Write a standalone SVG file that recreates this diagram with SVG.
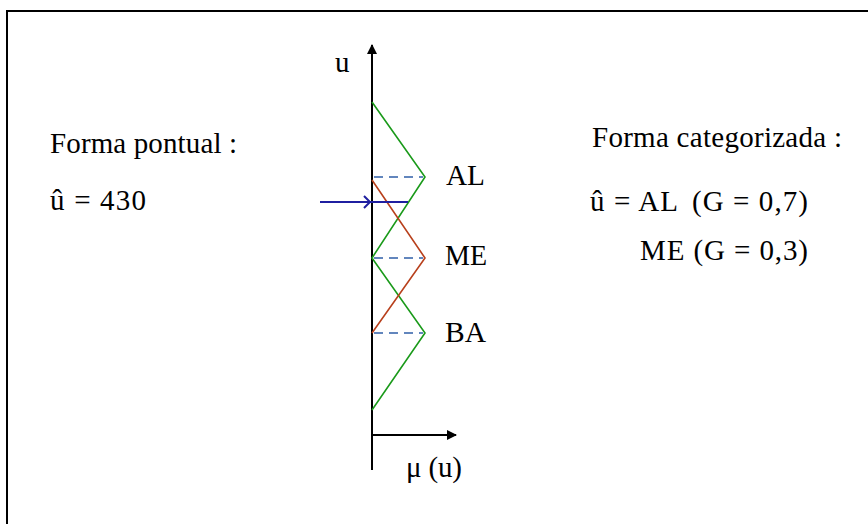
<svg xmlns="http://www.w3.org/2000/svg" width="868" height="524" viewBox="0 0 868 524">
<style>
text{font-family:"Liberation Serif","Times New Roman",serif;font-size:29px;fill:#000}
.ax{stroke:#000;stroke-width:2;fill:none}
.g{stroke:#1a9a1a;stroke-width:1.6;fill:none}
.r{stroke:#b8401c;stroke-width:1.6;fill:none}
.d{stroke:#2f5fa8;stroke-width:1.6;stroke-dasharray:9,6;fill:none}
.b{stroke:#1f1fa0;stroke-width:2;fill:none}
</style>
<defs>
<marker id="ah" markerWidth="10" markerHeight="10" refX="9" refY="5" orient="auto" markerUnits="userSpaceOnUse">
<path d="M0,0 L10,5 L0,10 z" fill="#000"/>
</marker>
</defs>
<rect width="868" height="524" fill="#fff"/>
<g id="frame" class="ax">
<path d="M7,524 V11 H868"/>
</g>
<g id="connectors">
<line class="ax" x1="372" y1="470" x2="372" y2="45" marker-end="url(#ah)"/>
<line class="ax" x1="372" y1="435" x2="456" y2="435" marker-end="url(#ah)"/>
<polyline class="g" points="372,102 425,177 372,258 425,333 372,410"/>
<polyline class="r" points="372,180 425,258 372,333"/>
<line class="d" x1="374" y1="177" x2="423" y2="177"/>
<line class="d" x1="374" y1="258" x2="423" y2="258"/>
<line class="d" x1="374" y1="333" x2="423" y2="333"/>
<line class="b" x1="320" y1="202" x2="408" y2="202"/>
<polyline class="b" points="364,196 370,202 364,208" stroke-width="1.5"/>
</g>
<g id="axis-labels">
<text x="335" y="72">u</text>
<text x="406" y="477" textLength="56" lengthAdjust="spacing">μ (u)</text>
</g>
<g id="AL"><text x="446" y="185" textLength="39" lengthAdjust="spacingAndGlyphs">AL</text></g>
<g id="ME"><text x="445" y="265" textLength="42" lengthAdjust="spacingAndGlyphs">ME</text></g>
<g id="BA"><text x="445" y="342" textLength="41" lengthAdjust="spacingAndGlyphs">BA</text></g>
<g id="forma-pontual">
<text x="50" y="153" textLength="187" lengthAdjust="spacing">Forma pontual :</text>
<text x="50" y="210" textLength="96" lengthAdjust="spacing">û = 430</text>
</g>
<g id="forma-categorizada">
<text x="592" y="147" textLength="250" lengthAdjust="spacing">Forma categorizada :</text>
<text x="590" y="211" textLength="88" lengthAdjust="spacing">û = AL</text>
<text x="692" y="211" textLength="116" lengthAdjust="spacing">(G = 0,7)</text>
<text x="640" y="260" textLength="168" lengthAdjust="spacing">ME (G = 0,3)</text>
</g>
</svg>
